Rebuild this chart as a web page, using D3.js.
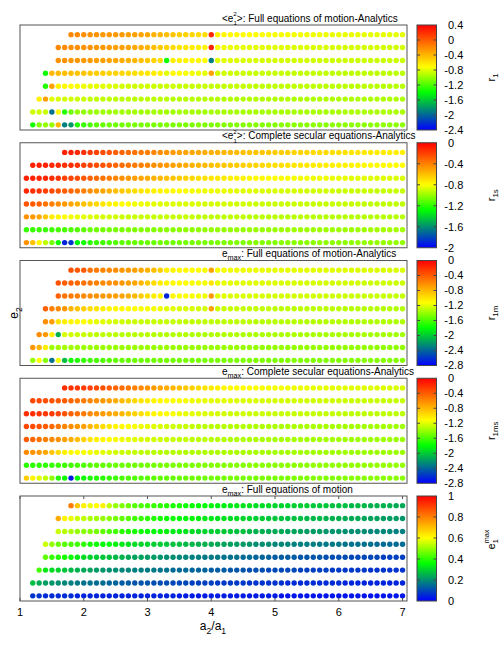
<!DOCTYPE html>
<html><head><meta charset="utf-8">
<script src="https://cdn.jsdelivr.net/npm/d3@7"></script>
<style>
body{margin:0;background:#fff}
svg{display:block}
text{font-family:"Liberation Sans",Arial,Helvetica,sans-serif;fill:#000}
</style>
</head><body>
<svg id="chart" width="501" height="654"></svg>
<script>
// ---------------- DATA ----------------
// a2/a1 grid (each row is right-aligned on this grid, ending at 7.0)
const a2Grid = [1.1,1.2,1.3,1.4,1.5,1.6,1.7,1.8,1.9,2.0,2.1,2.2,2.3,2.4,2.5,2.6,2.7,2.8,2.9,3.0,
  3.1,3.2,3.3,3.4,3.5,3.6,3.7,3.8,3.9,4.0,4.1,4.2,4.3,4.4,4.5,4.6,4.7,4.8,4.9,5.0,
  5.1,5.2,5.3,5.4,5.5,5.6,5.7,5.8,5.9,6.0,6.1,6.2,6.3,6.4,6.5,6.6,6.7,6.8,6.9,7.0];
// e2 rows, top to bottom
const e2Rows = [0.8,0.7,0.6,0.5,0.4,0.3,0.2,0.1];
const xTicks = [1,2,3,4,5,6,7];

// r1 : <e1^2> Full equations of motion - Analytics
const r1 = [
 [-0.2,-0.2,-0.22,-0.24,-0.24,-0.26,-0.26,-0.28,-0.28,-0.3,-0.3,-0.32,-0.34,-0.38,-0.4,-0.44,-0.46,-0.5,-0.52,-0.54,-0.56,-0.58,0.22,
  -0.66,-0.68,-0.7,-0.7,-0.72,-0.72,-0.73,-0.73,-0.74,-0.74,-0.74,-0.75,-0.75,-0.75,-0.76,-0.76,-0.76,-0.76,-0.77,-0.77,-0.77,-0.77,-0.78,-0.78,-0.78,-0.78,-0.78,-0.79,-0.79,-0.79],
 [-0.2,-0.2,-0.22,-0.22,-0.24,-0.24,-0.26,-0.26,-0.28,-0.3,-0.3,-0.32,-0.34,-0.36,-0.4,-0.44,-0.48,-0.52,-0.56,-0.6,-0.62,-0.64,-0.66,-0.68,0.25,
  -0.74,-0.76,-0.77,-0.78,-0.78,-0.79,-0.79,-0.8,-0.8,-0.8,-0.8,-0.81,-0.81,-0.81,-0.81,-0.82,-0.82,-0.82,-0.82,-0.82,-0.83,-0.83,-0.83,-0.83,-0.83,-0.83,-0.84,-0.84,-0.84,-0.84],
 [-0.24,-0.24,-0.26,-0.26,-0.28,-0.28,-0.3,-0.3,-0.32,-0.34,-0.36,-0.38,-0.4,-0.44,-0.48,-0.52,-0.56,-1.35,-0.64,-0.66,-0.68,-0.7,-0.7,-0.72,-1.9,
  -0.8,-0.8,-0.81,-0.81,-0.82,-0.82,-0.82,-0.83,-0.83,-0.83,-0.83,-0.84,-0.84,-0.84,-0.84,-0.84,-0.85,-0.85,-0.85,-0.85,-0.85,-0.85,-0.86,-0.86,-0.86,-0.86,-0.86,-0.86,-0.86,-0.86],
 [-1.35,-0.4,-0.42,-0.44,-0.44,-0.46,-0.46,-0.48,-0.5,-0.5,-0.52,-0.52,-0.54,-0.56,-0.58,-0.6,-0.62,-0.64,-0.66,-0.8,-0.7,-0.72,-0.74,-0.76,-0.76,-0.78,-0.3,
  -0.84,-0.85,-0.85,-0.86,-0.86,-0.86,-0.87,-0.87,-0.87,-0.87,-0.87,-0.88,-0.88,-0.88,-0.88,-0.88,-0.88,-0.88,-0.89,-0.89,-0.89,-0.89,-0.89,-0.89,-0.89,-0.89,-0.9,-0.9,-0.9,-0.9],
 [-1.3,-0.3,-0.66,-0.7,-0.72,-0.74,-0.76,-0.78,-0.78,-0.8,-0.8,-0.82,
  -0.84,-0.84,-0.85,-0.85,-0.85,-0.86,-0.86,-0.86,-0.86,-0.87,-0.87,-0.87,-0.87,-0.87,-0.88,-0.88,-0.88,-0.88,-0.88,-0.88,
  -0.88,-0.89,-0.89,-0.89,-0.89,-0.89,-0.89,-0.89,-0.89,-0.9,-0.9,-0.9,-0.9,-0.9,-0.9,-0.9,-0.9,-0.9,-0.9,-0.9,-0.91,-0.91,-0.91,-0.91,-0.91],
 [-0.66,-0.3,-0.8,-0.82,-0.84,-0.84,-0.86,-0.86,
  -0.88,-0.88,-0.88,-0.89,-0.89,-0.89,-0.89,-0.9,-0.9,-0.9,-0.9,-0.9,-0.9,-0.91,-0.91,-0.91,-0.91,-0.91,-0.91,-0.91,
  -0.91,-0.92,-0.92,-0.92,-0.92,-0.92,-0.92,-0.92,-0.92,-0.92,-0.92,-0.92,-0.93,-0.93,-0.93,-0.93,-0.93,-0.93,-0.93,-0.93,
  -0.93,-0.93,-0.93,-0.93,-0.93,-0.93,-0.93,-0.93,-0.93,-0.93],
 [-0.86,-0.84,-0.86,-1.95,-0.7,-1.3,-1.1,-1.0,-1.0,-0.98,-0.98,-0.97,-0.97,-0.97,
  -0.96,-0.96,-0.96,-0.96,-0.96,-0.96,-0.96,-0.96,-0.96,-0.96,-0.96,-0.96,-0.96,-0.96,-0.96,-0.95,-0.95,-0.95,-0.95,-0.95,
  -0.95,-0.95,-0.95,-0.95,-0.95,-0.95,-0.95,-0.95,-0.95,-0.95,-0.95,-0.95,-0.95,-0.95,-0.95,-0.94,-0.94,-0.94,-0.94,-0.94,
  -0.94,-0.94,-0.94,-0.94,-0.94],
 [-1.35,-1.05,-1.0,-1.0,-0.4,-1.9,-1.8,-1.3,-1.25,-1.2,-1.15,-1.12,-1.1,-1.1,
  -1.08,-1.08,-1.08,-1.07,-1.07,-1.07,-1.07,-1.06,-1.06,-1.06,-1.06,-1.06,-1.05,-1.05,-1.05,-1.05,-1.05,-1.05,-1.04,-1.04,
  -1.04,-1.04,-1.04,-1.04,-1.04,-1.03,-1.03,-1.03,-1.03,-1.03,-1.03,-1.03,-1.03,-1.02,-1.02,-1.02,-1.02,-1.02,-1.02,-1.02,
  -1.02,-1.02,-1.02,-1.02,-1.02]
];

// r1s : <e1^2> Complete secular equations - Analytics
const r1s = [
 [-0.1,-0.1,-0.12,-0.14,-0.18,-0.2,-0.24,-0.26,-0.3,-0.32,-0.34,-0.36,-0.38,-0.4,-0.42,-0.44,-0.46,-0.48,-0.5,-0.51,-0.52,-0.53,
  -0.54,-0.55,-0.56,-0.57,-0.58,-0.59,-0.6,-0.61,
  -0.62,-0.62,-0.63,-0.64,-0.64,-0.65,-0.66,-0.66,-0.67,-0.68,-0.68,-0.69,-0.7,-0.7,-0.71,-0.72,-0.72,-0.73,-0.73,-0.74,-0.74,-0.75,-0.75,-0.76],
 [-0.1,-0.1,-0.1,-0.12,-0.12,-0.14,-0.14,-0.16,-0.2,-0.22,-0.24,-0.26,-0.28,-0.32,-0.34,-0.36,-0.38,-0.4,-0.42,-0.44,-0.46,
  -0.48,-0.5,-0.52,-0.54,-0.56,-0.57,-0.58,-0.6,-0.61,-0.62,-0.63,-0.64,-0.65,-0.66,
  -0.67,-0.68,-0.69,-0.7,-0.7,-0.71,-0.72,-0.72,-0.73,-0.74,-0.74,-0.75,-0.75,-0.76,-0.76,-0.77,-0.77,-0.78,-0.78,-0.79,-0.79,-0.79,-0.8,-0.8],
 [-0.1,-0.1,-0.12,-0.12,-0.14,-0.16,-0.2,-0.22,-0.24,-0.27,-0.3,-0.33,-0.36,-0.39,-0.42,-0.45,-0.48,
  -0.5,-0.52,-0.54,-0.56,-0.58,-0.6,-0.62,-0.64,-0.66,-0.68,-0.7,-0.71,-0.72,-0.73,-0.74,-0.75,-0.76,-0.77,-0.78,
  -0.79,-0.79,-0.8,-0.8,-0.81,-0.81,-0.82,-0.82,-0.82,-0.83,-0.83,-0.83,-0.84,-0.84,-0.84,-0.85,-0.85,-0.85,-0.86,-0.86,-0.86,-0.86,-0.87,-0.87],
 [-0.12,-0.14,-0.16,-0.2,-0.23,-0.26,-0.29,-0.32,-0.36,-0.4,-0.44,-0.48,-0.52,-0.56,-0.6,-0.63,-0.66,-0.69,-0.72,-0.74,
  -0.76,-0.77,-0.78,-0.79,-0.8,-0.81,-0.82,-0.82,-0.83,-0.83,-0.84,-0.84,-0.85,-0.85,-0.86,-0.86,
  -0.86,-0.87,-0.87,-0.87,-0.88,-0.88,-0.88,-0.88,-0.89,-0.89,-0.89,-0.89,-0.89,-0.9,-0.9,-0.9,-0.9,-0.9,-0.9,-0.91,-0.91,-0.91,-0.91,-0.91],
 [-0.26,-0.28,-0.3,-0.36,-0.4,-0.44,-0.48,-0.52,-0.56,-0.6,-0.64,-0.68,-0.72,-0.76,-0.78,-0.8,-0.8,-0.82,-0.83,-0.84,-0.85,
  -0.86,-0.86,-0.86,-0.87,-0.87,-0.87,-0.87,-0.88,-0.88,-0.88,-0.88,-0.88,-0.89,-0.89,-0.89,
  -0.9,-0.9,-0.9,-0.9,-0.9,-0.9,-0.9,-0.9,-0.91,-0.91,-0.91,-0.91,-0.91,-0.91,-0.91,-0.91,-0.91,-0.92,-0.92,-0.92,-0.92,-0.92,-0.92,-0.92],
 [-0.46,-0.48,-0.52,-0.62,-0.74,-0.78,-0.8,-0.82,-0.84,-0.85,-0.86,-0.87,-0.88,-0.88,-0.89,
  -0.9,-0.9,-0.9,-0.9,-0.9,-0.91,-0.91,-0.91,-0.91,-0.91,-0.91,-0.91,-0.92,-0.92,-0.92,-0.92,-0.92,-0.92,-0.92,-0.92,
  -0.93,-0.93,-0.93,-0.93,-0.93,-0.93,-0.93,-0.93,-0.93,-0.93,-0.94,-0.94,-0.94,-0.94,-0.94,-0.94,-0.94,-0.94,-0.94,-0.94,
  -0.94,-0.94,-0.94,-0.94,-0.94],
 [-1.18,-1.18,-1.17,-1.17,-1.16,-1.15,-1.14,-1.13,-1.12,-1.1,
  -1.08,-1.07,-1.06,-1.06,-1.05,-1.05,-1.04,-1.04,-1.03,-1.03,-1.03,-1.02,-1.02,-1.02,-1.01,-1.01,-1.01,-1.01,-1.0,-1.0,
  -1.0,-1.0,-1.0,-0.99,-0.99,-0.99,-0.99,-0.99,-0.99,-0.99,-0.98,-0.98,-0.98,-0.98,-0.98,-0.98,-0.98,-0.98,-0.98,-0.98,
  -0.98,-0.98,-0.98,-0.98,-0.97,-0.97,-0.97,-0.97,-0.97,-0.97],
 [-0.45,-0.6,-0.78,-0.92,-1.05,-1.25,-1.9,-1.85,-1.3,-1.25,-1.2,-1.18,-1.16,-1.14,-1.12,
  -1.1,-1.1,-1.09,-1.09,-1.08,-1.08,-1.07,-1.07,-1.07,-1.06,-1.06,-1.06,-1.05,-1.05,-1.05,-1.05,-1.04,-1.04,-1.04,-1.04,
  -1.03,-1.03,-1.03,-1.03,-1.03,-1.02,-1.02,-1.02,-1.02,-1.02,-1.02,-1.01,-1.01,-1.01,-1.01,-1.01,-1.01,-1.0,-1.0,-1.0,
  -1.0,-1.0,-1.0,-1.0,-1.0]
];

// r1m : e_max Full equations of motion - Analytics
const r1m = [
 [-0.36,-0.38,-0.4,-0.5,-0.54,-0.58,-0.6,-0.62,-0.66,-0.68,-0.7,-0.74,-0.78,-0.84,-0.9,-1.05,-1.08,-1.1,-1.1,-1.12,-1.12,-1.14,-0.7,
  -1.15,-1.15,-1.16,-1.16,-1.16,-1.17,-1.17,-1.17,-1.18,-1.18,-1.18,-1.18,-1.19,-1.19,-1.19,-1.19,-1.2,-1.2,-1.2,-1.2,
  -1.2,-1.21,-1.21,-1.21,-1.21,-1.21,-1.22,-1.22,-1.22,-1.22],
 [-0.36,-0.4,-0.42,-0.46,-0.5,-0.54,-0.56,-0.6,-0.62,-0.64,-0.66,-0.7,-0.72,-0.8,-0.88,-0.96,-1.04,-1.08,-1.1,-1.12,-1.12,-1.14,-1.14,-1.15,-1.0,
  -1.18,-1.18,-1.19,-1.19,-1.2,-1.2,-1.2,-1.21,-1.21,-1.21,-1.22,-1.22,-1.22,-1.22,-1.23,-1.23,-1.23,-1.23,-1.24,-1.24,
  -1.24,-1.24,-1.24,-1.25,-1.25,-1.25,-1.25,-1.25,-1.26,-1.26],
 [-0.42,-0.5,-0.54,-0.56,-0.6,-0.62,-0.64,-0.66,-0.68,-0.7,-0.72,-0.76,-0.8,-0.9,-0.98,-1.04,-1.08,-2.65,-1.1,-1.12,-1.12,-1.14,-1.14,-1.16,-0.66,
  -1.2,-1.2,-1.21,-1.21,-1.21,-1.22,-1.22,-1.22,-1.23,-1.23,-1.23,-1.23,-1.24,-1.24,-1.24,-1.24,-1.25,-1.25,-1.25,-1.25,
  -1.25,-1.26,-1.26,-1.26,-1.26,-1.26,-1.27,-1.27,-1.27,-1.27],
 [-0.42,-0.56,-0.6,-0.66,-0.8,-0.86,-0.9,-0.96,-1.0,-1.05,-1.08,-1.1,-1.1,-1.12,-1.12,-1.14,-1.14,-1.15,-1.16,-1.2,-1.2,-1.22,-1.22,-1.22,-1.24,-1.24,-0.7,
  -1.26,-1.26,-1.27,-1.27,-1.27,-1.28,-1.28,-1.28,-1.28,-1.29,-1.29,-1.29,-1.29,-1.29,-1.3,-1.3,-1.3,-1.3,-1.3,-1.3,
  -1.31,-1.31,-1.31,-1.31,-1.31,-1.31,-1.32,-1.32,-1.32,-1.32],
 [-0.62,-0.68,-1.0,-1.05,-1.08,-1.1,-1.12,-1.16,-1.18,-1.2,-1.22,-1.24,-1.25,
  -1.26,-1.26,-1.27,-1.27,-1.27,-1.28,-1.28,-1.28,-1.28,-1.29,-1.29,-1.29,-1.29,-1.29,-1.3,-1.3,-1.3,-1.3,-1.3,-1.3,
  -1.31,-1.31,-1.31,-1.31,-1.31,-1.31,-1.31,-1.32,-1.32,-1.32,-1.32,-1.32,-1.32,-1.32,-1.32,-1.33,-1.33,-1.33,-1.33,-1.33,
  -1.33,-1.33,-1.33,-1.33],
 [-0.6,-0.66,-1.05,-2.1,-1.22,-1.24,-1.26,-1.27,-1.28,-1.29,
  -1.3,-1.3,-1.3,-1.31,-1.31,-1.31,-1.31,-1.31,-1.32,-1.32,-1.32,-1.32,-1.32,-1.32,-1.33,-1.33,-1.33,-1.33,-1.33,-1.33,
  -1.33,-1.33,-1.34,-1.34,-1.34,-1.34,-1.34,-1.34,-1.34,-1.34,-1.34,-1.35,-1.35,-1.35,-1.35,-1.35,-1.35,-1.35,
  -1.35,-1.35,-1.35,-1.35,-1.36,-1.36,-1.36,-1.36,-1.36,-1.36],
 [-0.66,-0.8,-1.05,-1.38,-1.36,-1.36,-1.37,-1.37,-1.38,-1.38,-1.38,
  -1.38,-1.38,-1.38,-1.38,-1.38,-1.38,-1.38,-1.38,-1.39,-1.39,-1.39,-1.39,-1.39,-1.39,-1.39,-1.39,-1.39,-1.39,-1.39,-1.39,
  -1.39,-1.39,-1.39,-1.39,-1.4,-1.4,-1.4,-1.4,-1.4,-1.4,-1.4,-1.4,-1.4,-1.4,-1.4,-1.4,-1.4,-1.4,
  -1.4,-1.4,-1.4,-1.4,-1.4,-1.41,-1.41,-1.41,-1.41,-1.41],
 [-1.4,-1.12,-1.45,-2.35,-1.15,-2.05,-1.75,-1.7,-1.66,-1.62,-1.6,-1.58,-1.56,-1.54,
  -1.52,-1.52,-1.51,-1.51,-1.5,-1.5,-1.5,-1.49,-1.49,-1.49,-1.48,-1.48,-1.48,-1.48,-1.47,-1.47,-1.47,-1.47,-1.47,-1.46,
  -1.46,-1.46,-1.46,-1.46,-1.46,-1.46,-1.45,-1.45,-1.45,-1.45,-1.45,-1.45,-1.45,-1.45,-1.45,-1.44,-1.44,-1.44,-1.44,-1.44,
  -1.44,-1.44,-1.44,-1.44,-1.44]
];

// r1ms : e_max Complete secular equations - Analytics
const r1ms = [
 [-0.2,-0.22,-0.24,-0.26,-0.28,-0.3,-0.36,-0.4,-0.44,-0.48,-0.52,-0.56,-0.6,-0.64,-0.68,-0.72,
  -0.76,-0.8,-0.84,-0.88,-0.92,-0.96,-1.0,-1.03,-1.06,-1.08,
  -1.1,-1.11,-1.12,-1.12,-1.13,-1.14,-1.14,-1.15,-1.15,-1.16,-1.16,-1.17,-1.17,-1.18,-1.18,-1.18,-1.19,-1.19,-1.19,-1.2,
  -1.2,-1.2,-1.21,-1.21,-1.21,-1.22,-1.22,-1.22],
 [-0.3,-0.32,-0.34,-0.36,-0.38,-0.4,-0.44,-0.5,-0.54,-0.58,-0.62,-0.66,-0.7,-0.76,-0.82,-0.88,-0.94,-1.0,-1.04,
  -1.08,-1.1,-1.12,-1.13,-1.14,-1.15,-1.16,-1.17,-1.18,-1.19,-1.2,-1.2,
  -1.21,-1.21,-1.22,-1.22,-1.22,-1.23,-1.23,-1.23,-1.23,-1.24,-1.24,-1.24,-1.24,-1.25,-1.25,-1.25,-1.25,-1.25,-1.26,-1.26,
  -1.26,-1.26,-1.26,-1.26,-1.27,-1.27,-1.27,-1.27],
 [-0.2,-0.2,-0.22,-0.24,-0.26,-0.3,-0.36,-0.42,-0.48,-0.54,-0.6,-0.64,-0.68,-0.72,-0.76,-0.8,-0.86,
  -0.92,-0.98,-1.04,-1.08,-1.1,-1.12,-1.14,-1.16,-1.18,-1.19,-1.2,-1.21,-1.22,-1.23,-1.24,
  -1.25,-1.25,-1.25,-1.26,-1.26,-1.26,-1.26,-1.27,-1.27,-1.27,-1.27,-1.27,-1.28,-1.28,-1.28,-1.28,-1.28,-1.28,-1.29,-1.29,
  -1.29,-1.29,-1.29,-1.29,-1.29,-1.29,-1.3,-1.3],
 [-0.3,-0.32,-0.36,-0.4,-0.46,-0.52,-0.58,-0.62,-0.66,-0.7,-0.8,-0.88,-0.96,-1.02,
  -1.08,-1.1,-1.12,-1.14,-1.16,-1.18,-1.2,-1.22,-1.24,-1.25,-1.26,-1.27,-1.28,-1.29,-1.3,-1.3,-1.31,-1.31,
  -1.32,-1.32,-1.32,-1.33,-1.33,-1.33,-1.33,-1.34,-1.34,-1.34,-1.34,-1.34,-1.35,-1.35,-1.35,-1.35,-1.35,-1.35,-1.36,-1.36,
  -1.36,-1.36,-1.36,-1.36,-1.36,-1.36,-1.37,-1.37],
 [-0.4,-0.44,-0.5,-0.56,-0.6,-0.64,-0.7,-0.76,-0.84,-0.92,-1.0,-1.06,-1.1,-1.12,-1.14,-1.16,-1.18,-1.2,
  -1.22,-1.23,-1.24,-1.25,-1.26,-1.27,-1.28,-1.28,-1.29,-1.3,-1.3,-1.31,-1.31,-1.32,
  -1.33,-1.33,-1.33,-1.34,-1.34,-1.34,-1.34,-1.35,-1.35,-1.35,-1.35,-1.35,-1.36,-1.36,-1.36,-1.36,-1.36,-1.36,-1.37,-1.37,
  -1.37,-1.37,-1.37,-1.37,-1.37,-1.37,-1.38,-1.38],
 [-0.6,-0.64,-0.68,-0.74,-0.86,-0.96,-1.06,-1.1,-1.12,-1.14,-1.16,-1.18,-1.2,-1.22,-1.24,-1.26,-1.27,-1.28,-1.29,-1.3,
  -1.31,-1.31,-1.32,-1.32,-1.32,-1.33,-1.33,-1.33,-1.33,-1.34,-1.34,-1.34,-1.34,-1.35,-1.35,-1.35,-1.35,-1.35,-1.36,-1.36,
  -1.36,-1.36,-1.36,-1.36,-1.37,-1.37,-1.37,-1.37,-1.37,-1.37,-1.37,-1.38,-1.38,-1.38,-1.38,-1.38,-1.38,-1.38,-1.38,-1.38],
 [-1.68,-1.68,-1.67,-1.66,-1.65,-1.64,-1.63,-1.62,-1.6,-1.58,
  -1.55,-1.54,-1.53,-1.52,-1.51,-1.5,-1.5,-1.49,-1.49,-1.48,-1.48,-1.47,-1.47,-1.47,-1.46,-1.46,-1.46,-1.45,-1.45,-1.45,
  -1.45,-1.44,-1.44,-1.44,-1.44,-1.43,-1.43,-1.43,-1.43,-1.43,-1.42,-1.42,-1.42,-1.42,-1.42,-1.41,-1.41,-1.41,-1.41,-1.41,
  -1.41,-1.41,-1.41,-1.4,-1.4,-1.4,-1.4,-1.4,-1.4,-1.4],
 [-0.9,-1.08,-1.2,-1.28,-1.42,-1.7,-1.76,-2.7,-1.8,-1.76,-1.72,-1.7,-1.68,-1.66,-1.64,
  -1.6,-1.59,-1.58,-1.57,-1.56,-1.55,-1.54,-1.54,-1.53,-1.52,-1.52,-1.51,-1.51,-1.5,-1.5,-1.5,-1.49,-1.49,-1.49,-1.48,
  -1.48,-1.48,-1.47,-1.47,-1.47,-1.47,-1.46,-1.46,-1.46,-1.46,-1.45,-1.45,-1.45,-1.45,-1.45,-1.44,-1.44,-1.44,-1.44,-1.44,
  -1.43,-1.43,-1.43,-1.43,-1.43]
];

// e1max : e_max Full equations of motion
const e1max = [
 [0.81,0.69,0.62,0.58,0.6,0.62,0.54,0.5,0.48,0.46,0.44,0.43,0.42,0.41,0.4,0.39,0.38,0.38,0.37,0.37,0.36,0.36,
  0.35,0.34,0.34,0.33,0.33,0.32,0.32,
  0.31,0.31,0.31,0.3,0.3,0.3,0.29,0.29,0.29,0.28,0.28,0.28,0.27,0.27,0.27,0.26,0.26,0.26,0.25,0.25,0.25,0.25,0.24,0.24],
 [0.73,0.62,0.58,0.55,0.54,0.52,0.51,0.5,0.49,0.47,0.45,0.44,0.42,0.41,0.4,0.39,0.38,0.37,0.37,0.36,0.35,0.35,0.34,
  0.33,0.33,0.32,0.32,0.31,0.31,0.3,0.3,
  0.29,0.29,0.28,0.28,0.28,0.27,0.27,0.27,0.26,0.26,0.26,0.25,0.25,0.25,0.24,0.24,0.24,0.23,0.23,0.23,0.22,0.22,0.22,0.21],
 [0.55,0.53,0.52,0.5,0.49,0.48,0.47,0.45,0.43,0.42,0.4,0.39,0.38,0.37,0.36,0.35,0.35,0.34,0.33,0.33,0.32,
  0.31,0.3,0.3,0.29,0.29,0.28,0.28,0.27,0.27,0.26,
  0.25,0.25,0.24,0.24,0.24,0.23,0.23,0.23,0.22,0.22,0.22,0.21,0.21,0.21,0.2,0.2,0.2,0.2,0.19,0.19,0.19,0.19,0.18,0.18],
 [0.55,0.5,0.46,0.44,0.43,0.42,0.4,0.38,0.37,0.36,0.36,0.35,0.33,0.32,0.31,0.3,0.3,0.29,0.29,
  0.28,0.27,0.27,0.26,0.26,0.25,0.25,0.24,0.24,0.23,0.23,0.22,0.22,0.21,
  0.2,0.2,0.2,0.19,0.19,0.19,0.18,0.18,0.18,0.18,0.17,0.17,0.17,0.17,0.16,0.16,0.16,0.16,0.16,0.15,0.15,0.15,0.15,0.15],
 [0.45,0.41,0.39,0.38,0.36,0.33,0.31,0.3,0.29,0.28,0.27,0.26,0.25,0.24,0.23,0.23,0.22,0.22,0.21,
  0.2,0.2,0.19,0.19,0.18,0.18,0.17,0.17,0.17,0.16,0.16,0.16,0.15,0.15,
  0.14,0.14,0.14,0.13,0.13,0.13,0.13,0.12,0.12,0.12,0.12,0.11,0.11,0.11,0.11,0.1,0.1,0.1,0.1,0.1,0.09,0.09,0.09,0.09],
 [0.42,0.33,0.31,0.3,0.28,0.26,0.25,0.24,0.23,0.22,0.21,0.2,0.2,0.19,0.19,0.18,0.18,0.17,0.17,0.16,0.16,
  0.15,0.15,0.15,0.14,0.14,0.14,0.13,0.13,0.13,0.12,0.12,0.12,0.11,
  0.11,0.11,0.1,0.1,0.1,0.1,0.1,0.09,0.09,0.09,0.09,0.09,0.08,0.08,0.08,0.08,0.08,0.08,0.07,0.07,0.07,0.07,0.07,0.07],
 [0.27,0.24,0.22,0.21,0.2,0.19,0.18,0.17,0.16,0.16,0.15,0.15,0.14,0.14,0.13,0.13,0.12,0.12,0.12,0.11,0.11,0.11,0.1,0.1,0.1,
  0.09,0.09,0.09,0.09,0.08,0.08,0.08,0.08,0.08,0.07,
  0.07,0.07,0.07,0.07,0.07,0.06,0.06,0.06,0.06,0.06,0.06,0.06,0.06,0.06,0.05,0.05,0.05,0.05,0.05,0.05,0.05,0.05,0.05,0.05],
 [0.07,0.07,0.06,0.06,0.06,0.06,0.06,0.05,0.05,
  0.05,0.05,0.05,0.05,0.05,0.05,0.05,0.05,0.05,0.05,0.05,0.05,0.05,0.05,0.04,0.04,0.04,0.04,0.04,0.04,
  0.04,0.04,0.04,0.04,0.04,0.04,0.04,0.04,0.04,0.04,0.03,0.03,0.03,0.03,0.03,0.03,0.03,0.03,0.03,0.03,
  0.03,0.03,0.03,0.03,0.03,0.03,0.03,0.03,0.03,0.03]
];

// colour bar ranges and tick labels
const cbDomain1 = [-2.4, 0.4], cbTicks1 = [0.4, 0, -0.4, -0.8, -1.2, -1.6, -2, -2.4];
const cbDomain2 = [-2, 0],     cbTicks2 = [0, -0.4, -0.8, -1.2, -1.6, -2];
const cbDomain3 = [-2.8, 0],   cbTicks3 = [0, -0.4, -0.8, -1.2, -1.6, -2, -2.4, -2.8];
const cbDomain4 = [-2.8, 0],   cbTicks4 = [0, -0.4, -0.8, -1.2, -1.6, -2, -2.4, -2.8];
const cbDomain5 = [0, 1],      cbTicks5 = [0, 0.2, 0.4, 0.6, 0.8, 1];

// ---------------- DRAWING ----------------
const svg = d3.select('#chart');
const FONT_TITLE = 10, FONT_TICK = 11;
const L = 20, R = 407, PH = 105, PSTEP = 117.75, TOP0 = 25;
const CBX = 417, CBW = 19.5;

const x = d3.scaleLinear().domain([1, 7.07]).range([L, R]);

const cmapStops = [0, 0.18, 0.36, 0.6, 0.8, 1];
const cmapCols = ['#0000ff', '#008080', '#00ff00', '#ffff00', '#ff8000', '#ff0000'];
const cmap = d3.scaleLinear().domain(cmapStops).range(cmapCols).interpolate(d3.interpolateRgb).clamp(true);

// parts: {t, sub, sup, dx, shift(em, optional)}
function rich(sel, parts, fs) {
  let cur = 0;
  parts.forEach(p => {
    const ts = sel.append('tspan').text(p.t);
    let target = 0;
    if (p.sub) target = fs * (p.shift != null ? p.shift : 0.3);
    if (p.sup) target = -fs * (p.shift != null ? p.shift : 0.42);
    if (target - cur !== 0) ts.attr('dy', target - cur);
    cur = target;
    if (p.sub || p.sup) ts.attr('font-size', fs * (p.scale || 0.72));
    if (p.dx) ts.attr('dx', p.dx);
  });
}

const e12 = [{t:'<e'},{t:'1',sub:1,shift:0.36,scale:0.62},{t:'2',sup:1,shift:0.52,scale:0.62,dx:-3.5}];
const panels = [
  {data: r1, domain: cbDomain1, ticks: cbTicks1,
   title: e12.concat([{t:'>: Full equations of motion-Analytics'}]),
   label: [{t:'r'},{t:'1',sub:1}]},
  {data: r1s, domain: cbDomain2, ticks: cbTicks2,
   title: e12.concat([{t:'>: Complete secular equations-Analytics'}]),
   label: [{t:'r'},{t:'1s',sub:1}]},
  {data: r1m, domain: cbDomain3, ticks: cbTicks3,
   title: [{t:'e'},{t:'max',sub:1},{t:': Full equations of motion-Analytics'}],
   label: [{t:'r'},{t:'1m',sub:1}]},
  {data: r1ms, domain: cbDomain4, ticks: cbTicks4,
   title: [{t:'e'},{t:'max',sub:1},{t:': Complete secular equations-Analytics'}],
   label: [{t:'r'},{t:'1ms',sub:1}]},
  {data: e1max, domain: cbDomain5, ticks: cbTicks5,
   title: [{t:'e'},{t:'max',sub:1},{t:': Full equations of motion'}],
   label: null}
];

// gradient for colour bars
const defs = svg.append('defs');
const grad = defs.append('linearGradient').attr('id', 'cmapGrad')
  .attr('x1', 0).attr('y1', 1).attr('x2', 0).attr('y2', 0);
d3.range(0, 1.0001, 1 / 64).forEach(t => {
  grad.append('stop').attr('offset', t).attr('stop-color', cmap(t));
});

panels.forEach((p, i) => {
  const top = TOP0 + i * PSTEP, bot = top + PH;
  const y = d3.scaleLinear().domain([0.06, 0.875]).range([bot, top]);
  const norm = d3.scaleLinear().domain(p.domain).range([0, 1]);
  const g = svg.append('g');

  // dots
  p.data.forEach((row, ri) => {
    const xs = a2Grid.slice(a2Grid.length - row.length);
    g.append('g').selectAll('circle').data(row).join('circle')
      .attr('cx', (d, k) => x(xs[k]))
      .attr('cy', y(e2Rows[ri]))
      .attr('r', 2.7)
      .attr('fill', d => cmap(norm(d)));
  });

  // frame
  g.append('rect').attr('x', L).attr('y', top).attr('width', R - L).attr('height', PH)
    .attr('fill', 'none').attr('stroke', '#555').attr('stroke-width', 1);

  // title
  const tt = g.append('text').attr('x', 222).attr('y', top - 3.5).attr('font-size', FONT_TITLE);
  rich(tt, p.title, FONT_TITLE);

  // colour bar
  const cy = d3.scaleLinear().domain(p.domain).range([bot, top]);
  g.append('rect').attr('x', CBX).attr('y', top).attr('width', CBW).attr('height', PH)
    .attr('fill', 'url(#cmapGrad)').attr('stroke', '#444').attr('stroke-width', 1);
  p.ticks.forEach(v => {
    const ty = cy(v);
    if (ty > top + 0.5 && ty < bot - 0.5) {
      g.append('line').attr('x1', CBX).attr('x2', CBX + 3).attr('y1', ty).attr('y2', ty).attr('stroke', '#444');
      g.append('line').attr('x1', CBX + CBW - 3).attr('x2', CBX + CBW).attr('y1', ty).attr('y2', ty).attr('stroke', '#444');
    }
    g.append('text').attr('x', v < 0 ? 444.3 : 448).attr('y', ty).attr('dy', '0.36em')
      .attr('font-size', FONT_TICK).text(String(v));
  });

  // colour bar label
  if (p.label) {
    const lt = g.append('text').attr('transform', `translate(494.5,${(top + bot) / 2}) rotate(-90)`)
      .attr('text-anchor', 'middle').attr('font-size', 11);
    rich(lt, p.label, 11);
  }

  // x axis on the bottom panel
  if (i === panels.length - 1) {
    xTicks.forEach(v => {
      g.append('line').attr('x1', x(v)).attr('x2', x(v)).attr('y1', bot).attr('y2', bot - 3).attr('stroke', '#555');
      g.append('line').attr('x1', x(v)).attr('x2', x(v)).attr('y1', top).attr('y2', top + 3).attr('stroke', '#555');
      g.append('text').attr('x', x(v)).attr('y', 615.5).attr('text-anchor', 'middle')
        .attr('font-size', FONT_TICK).text(v);
    });
    const el = g.append('text').attr('transform', `translate(494.5,539.5) rotate(-90)`)
      .attr('text-anchor', 'middle').attr('font-size', 11);
    rich(el, [{t:'e'},{t:'1',sub:1,shift:0.34,scale:0.66},{t:'max',sup:1,shift:0.5,scale:0.66,dx:-4}], 11);
  }
});

// axis labels
const xl = svg.append('text').attr('x', 213).attr('y', 630).attr('text-anchor', 'middle').attr('font-size', 12);
rich(xl, [{t:'a'},{t:'2',sub:1},{t:'/a'},{t:'1',sub:1}], 12);
const yl = svg.append('text').attr('transform', 'translate(18,313) rotate(-90)').attr('text-anchor', 'middle').attr('font-size', 12);
rich(yl, [{t:'e'},{t:'2',sub:1}], 12);
</script>
</body></html>
